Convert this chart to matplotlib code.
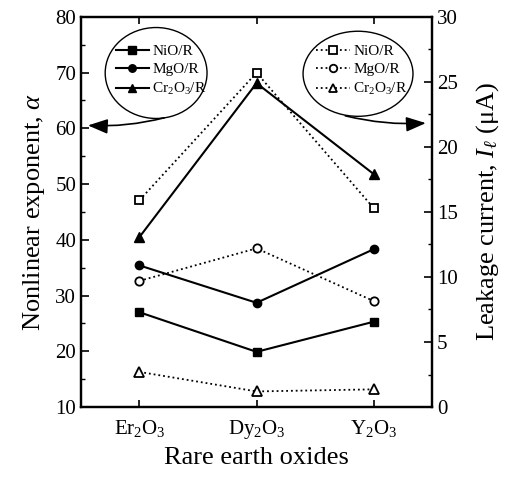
import numpy as np
import matplotlib
matplotlib.use("Agg")
import matplotlib.pyplot as plt
from matplotlib.patches import Ellipse
from matplotlib.ticker import MultipleLocator

# 데이터
oxides = ['Er$_2$O$_3$', 'Dy$_2$O$_3$', 'Y$_2$O$_3$']
labels = ['NiO/R', 'MgO/R', 'Cr$_2$O$_3$/R']
markers = ['s', 'o', '^']

# 비선형 지수 (왼쪽 축)
alpha_nio = [27.0, 19.9, 25.3]
alpha_mgo = [35.4, 28.7, 38.3]
alpha_cr = [40.5, 68.1, 51.8]

# 누설전류 (오른쪽 축, uA)
leak_nio = [15.9, 25.7, 15.3]
leak_mgo = [9.7, 12.2, 8.15]
leak_cr = [2.7, 1.2, 1.36]

plt.rcParams['font.family'] = ['Liberation Serif', 'DejaVu Serif']
plt.rcParams['mathtext.fontset'] = 'custom'
plt.rcParams['mathtext.rm'] = 'Liberation Serif'
plt.rcParams['mathtext.it'] = 'Liberation Serif:italic'
plt.rcParams['mathtext.bf'] = 'Liberation Serif:bold'

fig = plt.figure(figsize=(5.06, 4.80), dpi=100)
ax = fig.add_axes([0.160, 0.152, 0.694, 0.813])
ax2 = ax.twinx()

x = np.arange(len(oxides))

# 채운 마커: 실선 / 왼쪽 축
for vals, m, lab in zip([alpha_nio, alpha_mgo, alpha_cr], markers, labels):
    ax.plot(x, vals, '-', color='black', lw=1.5, marker=m,
            ms=7 if m == '^' else 6, mfc='black', mec='black', label=lab)

# 빈 마커: 점선 / 오른쪽 축
for vals, m, lab in zip([leak_nio, leak_mgo, leak_cr], markers, labels):
    ax2.plot(x, vals, ':', color='black', lw=1.3, marker=m,
             ms=6.5 if m == '^' else 6, mfc='white', mec='black', mew=1.3,
             label=lab)

ax.set_xlim(-0.5, 2.5)
ax.set_ylim(10, 80)
ax2.set_ylim(0, 30)
ax.set_xticks(x)
ax.set_xticklabels(oxides, fontsize=15)
ax.yaxis.set_major_locator(MultipleLocator(10))
ax.yaxis.set_minor_locator(MultipleLocator(5))
ax2.yaxis.set_major_locator(MultipleLocator(5))
ax2.yaxis.set_minor_locator(MultipleLocator(2.5))

ax.tick_params(axis='both', which='both', direction='in', labelsize=15)
ax.tick_params(axis='x', top=True, length=5, width=1.2, pad=8)
ax.tick_params(axis='y', which='major', length=6, width=1.2)
ax.tick_params(axis='y', which='minor', length=3, width=1.0)
ax2.tick_params(axis='y', which='both', direction='in', labelsize=15)
ax2.tick_params(axis='y', which='major', length=6, width=1.2)
ax2.tick_params(axis='y', which='minor', length=3, width=1.0)

for a in (ax, ax2):
    for s in a.spines.values():
        s.set_linewidth(1.6)

ax.set_xlabel('Rare earth oxides', fontsize=19, labelpad=4)
ax.set_ylabel(r'Nonlinear exponent, $\alpha$', fontsize=19, labelpad=6)
ax2.set_ylabel(r'Leakage current, $I_\ell$ (μA)', fontsize=19, labelpad=12)

# 타원 범례
ax.add_patch(Ellipse((0.214, 0.856), 0.29, 0.233, transform=ax.transAxes,
                     fill=False, ec='black', lw=1.0, zorder=5))
ax.add_patch(Ellipse((0.789, 0.854), 0.313, 0.218, transform=ax.transAxes,
                     fill=False, ec='black', lw=1.0, zorder=5))

ax.legend(loc='center', bbox_to_anchor=(0.228, 0.862), frameon=False,
          fontsize=11, handlelength=2.2, handletextpad=0.2,
          labelspacing=0.3, borderpad=0, markerscale=0.9)
ax2.legend(loc='center', bbox_to_anchor=(0.80, 0.862), frameon=False,
           fontsize=11, handlelength=2.2, handletextpad=0.2,
           labelspacing=0.3, borderpad=0, markerscale=0.9)

# 화살표
ax.annotate('', xy=(0.012, 0.722), xytext=(0.245, 0.743),
            xycoords='axes fraction', textcoords='axes fraction',
            arrowprops=dict(arrowstyle='-|>,head_length=1.2,head_width=0.45',
                            color='black', lw=1.2,
                            connectionstyle='arc3,rad=-0.08'))
ax.annotate('', xy=(0.99, 0.728), xytext=(0.745, 0.748),
            xycoords='axes fraction', textcoords='axes fraction',
            arrowprops=dict(arrowstyle='-|>,head_length=1.2,head_width=0.45',
                            color='black', lw=1.2,
                            connectionstyle='arc3,rad=0.08'))

fig.savefig('out.png', dpi=100)
